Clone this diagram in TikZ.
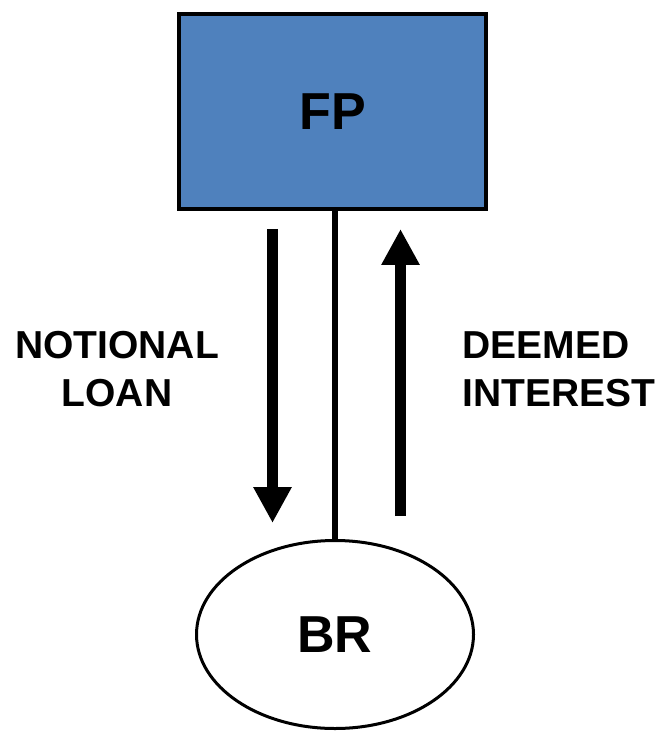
\documentclass[tikz,border=0pt]{standalone}
\usepackage{fontspec}
\setmainfont{Liberation Sans}
\usetikzlibrary{shapes.geometric, arrows.meta}
\definecolor{fpblue}{RGB}{79,129,189}

\begin{document}
\begin{tikzpicture}[x=0.5pt, y=-0.5pt,
        flecha/.style={line width=5.8pt, -{Triangle[width=18pt, length=18pt]}},
        etiqueta/.style={font=\fontsize{19.5}{24}\selectfont\bfseries, inner sep=0pt},
        titulo/.style={font=\fontsize{26}{31}\selectfont\bfseries, inner sep=0pt}]
            \useasboundingbox (0,0) rectangle (663,731);

            % Caja FP
            \node[titulo, draw=black, line width=2pt, fill=fpblue, minimum width=153.5pt, minimum height=97.5pt] (FP) at (332.5,111.5) {FP};

            % Elipse BR
            \node[titulo, draw=black, ellipse, line width=1.5pt, minimum width=138.5pt, minimum height=94pt] (BR) at (335,634.5) {BR};

            % Linea
            \draw[black, line width=3pt] (BR.north) -- (BR.north |- FP.south);

            % Flechas
            \coordinate (loan start) at (272.5,229);
            \coordinate (loan end) at (272.5,523);
            \coordinate (interest start) at (400.5,516);
            \coordinate (interest end) at (400.5,229);
            \draw[flecha] (loan start) -- (loan end);
            \draw[flecha] (interest start) -- (interest end);

            % Textos
            \node[etiqueta, align=center] (loan) at (117,369) {NOTIONAL\\LOAN};
            \node[etiqueta, align=left, anchor=west] (interest) at (462,369) {DEEMED\\INTEREST};
        \end{tikzpicture}
\end{document}
